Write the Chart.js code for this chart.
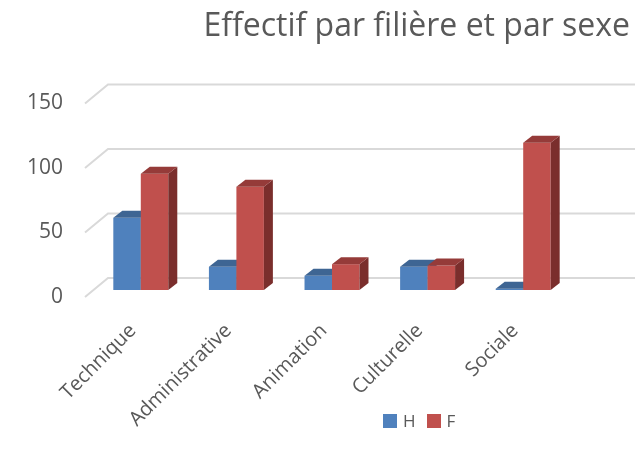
<!DOCTYPE html>
<html>
<head>
<meta charset="utf-8">
<script src="https://cdn.jsdelivr.net/npm/chart.js@4/dist/chart.umd.min.js"></script>
<style>
    body{margin:0;background:#fff;}
    #cadre{position:relative;width:635px;height:451px;}
    #legende{position:absolute;left:383px;top:409px;font-family:'Open Sans',sans-serif;font-size:17px;color:#595959;display:flex;align-items:center;}
    #legende span.caja{display:inline-block;width:14px;height:14px;margin-right:6px;}
    #legende span.txt{margin-right:11px;}
</style>
</head>
<body>
<div id="cadre">
    <canvas id="myChart" width="635" height="451"></canvas>
    <div id="legende">
        <span class="caja" style="background:#4F81BD"></span><span class="txt">H</span>
        <span class="caja" style="background:#C0504D"></span><span class="txt">F</span>
    </div>
</div>
<script>
const filieres = ['Technique', 'Administrative', 'Animation', 'Culturelle', 'Sociale'];
const effectifH = [56, 18, 11, 18, 1];
const effectifF = [90, 80, 20, 19, 114];
const ticksY = [0, 50, 100, 150];

// faces 3D : couleur du dessus et du cote pour chaque serie
const faces = [
    {top: '#3E6593', side: '#33557D'},
    {top: '#953B39', side: '#7A2E2C'}
];
const prof = {dx: 9, dy: -7};       // profondeur d'une barre
const decal = {dx: 8, dy: -7};      // decalage des barres vers le fond
const fond = {dx: 23, dy: -19};     // decalage du mur du fond

const dessinerFaces = (ctx, bar, f) => {
    const {x, y, base, width} = bar.getProps(['x', 'y', 'base', 'width'], true);
    const l = x - width / 2, r = x + width / 2;
    ctx.fillStyle = f.side;
    ctx.beginPath();
    ctx.moveTo(r, y);
    ctx.lineTo(r + prof.dx, y + prof.dy);
    ctx.lineTo(r + prof.dx, base + prof.dy);
    ctx.lineTo(r, base);
    ctx.closePath();
    ctx.fill();
    ctx.fillStyle = f.top;
    ctx.beginPath();
    ctx.moveTo(l, y);
    ctx.lineTo(l + prof.dx, y + prof.dy);
    ctx.lineTo(r + prof.dx, y + prof.dy);
    ctx.lineTo(r, y);
    ctx.closePath();
    ctx.fill();
}

const effet3D = {
    id: 'effet3D',
    beforeDatasetsDraw(chart) {
        const ctx = chart.ctx;
        const y = chart.scales.y;
        const left = chart.chartArea.left;
        ctx.save();
        ctx.strokeStyle = '#D9D9D9';
        ctx.lineWidth = 2;
        for (let v of ticksY) {
            let py = y.getPixelForValue(v);
            ctx.beginPath();
            ctx.moveTo(left, py);
            ctx.lineTo(left + fond.dx, py + fond.dy);
            ctx.lineTo(chart.width, py + fond.dy);
            ctx.stroke();
        }
        ctx.restore();
        // les barres elles-memes sont dessinees plus bas, dans l'ordre H puis F
        return;
    },
    beforeDatasetDraw() {
        return false;
    },
    afterDatasetsDraw(chart) {
        const ctx = chart.ctx;
        const metas = chart.data.datasets.map((d, i) => chart.getDatasetMeta(i));
        ctx.save();
        ctx.translate(decal.dx, decal.dy);
        for (let i = 0; i < filieres.length; i++) {
            metas.forEach((meta, k) => {
                const bar = meta.data[i];
                bar.draw(ctx);
                dessinerFaces(ctx, bar, faces[k]);
            });
        }
        ctx.restore();
    }
};

const data = {
    labels: filieres,
    datasets: [{
        label: 'H',
        data: effectifH,
        backgroundColor: '#4F81BD'
    }, {
        label: 'F',
        data: effectifF,
        backgroundColor: '#C0504D'
    }]
};

const config = {
    type: 'bar',
    data,
    options: {
        responsive: false,
        animation: false,
        devicePixelRatio: 1,
        layout: {padding: {right: 5}},
        datasets: {bar: {categoryPercentage: 0.575, barPercentage: 1}},
        plugins: {
            legend: {display: false},
            tooltip: {enabled: false},
            title: {
                display: true,
                text: 'Effectif par filière et par sexe',
                align: 'end',
                color: '#595959',
                font: {family: 'Open Sans', size: 32, weight: 'normal'},
                padding: {top: 8, bottom: 57}
            }
        },
        scales: {
            x: {
                grid: {display: false},
                border: {display: false},
                ticks: {
                    minRotation: 45, maxRotation: 45,
                    padding: 14,
                    color: '#595959',
                    font: {family: 'Open Sans', size: 20}
                },
                afterFit: (s) => { s.height = 154; }
            },
            y: {
                min: 0, max: 150,
                grid: {display: false},
                border: {display: false},
                ticks: {
                    padding: 14,
                    color: '#595959',
                    font: {family: 'Open Sans', size: 21}
                },
                afterBuildTicks: (s) => { s.ticks = ticksY.map(v => ({value: v})); },
                afterFit: (s) => { s.width = 85; }
            },
            droite: {
                position: 'right',
                grid: {display: false},
                border: {display: false},
                ticks: {display: false},
                afterFit: (s) => { s.width = 67; }
            }
        }
    },
    plugins: [effet3D]
};

const ctx = document.getElementById('myChart');
const myChart = new Chart(ctx, config);
</script>
</body>
</html>
